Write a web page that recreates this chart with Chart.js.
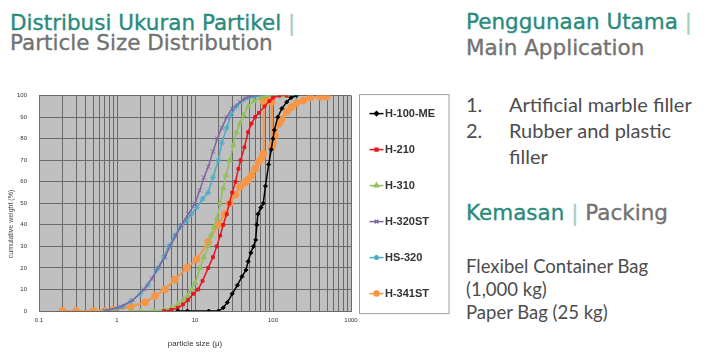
<!DOCTYPE html>
<html><head><meta charset="utf-8">
<script src="https://cdn.jsdelivr.net/npm/chart.js@4/dist/chart.umd.min.js"></script>
<style>
html,body{margin:0;padding:0;background:#fff;width:720px;height:358px;overflow:hidden;}
body{position:relative;font-family:"DejaVu Sans",sans-serif;}
.h{position:absolute;white-space:nowrap;font-size:21.5px;line-height:21px;-webkit-text-stroke:0.35px currentColor;}
.teal{color:#2a8a7c}
.gray{color:#727272}
.bar{color:#a6cfc8}
.body{position:absolute;font-family:Lato,sans-serif;color:#4d4d4d;font-size:20px;white-space:nowrap;}
#wrap{position:absolute;left:0;top:80px;width:455px;height:278px;}
</style></head>
<body>
<div class="h teal" style="left:10px;top:12px">Distribusi Ukuran Partikel <span class="bar">|</span></div>
<div class="h gray" style="left:10px;top:32px">Particle Size Distribution</div>

<div class="h teal" style="left:466px;top:11px">Penggunaan Utama <span class="bar">|</span></div>
<div class="h gray" style="left:466px;top:37px">Main Application</div>

<div class="body" style="left:466px;top:91px;line-height:26px">1.<br>2.</div>
<div class="body" style="left:509px;top:91px;line-height:26px">Artificial marble filler<br>Rubber and plastic<br>filler</div>

<div class="h teal" style="left:466px;top:202px">Kemasan <span class="bar">|</span> <span class="gray">Packing</span></div>

<div class="body" style="left:466px;top:255px;line-height:23px;font-size:18.5px">Flexibel Container Bag<br>(1,000 kg)<br>Paper Bag (25 kg)</div>

<div id="wrap"><canvas id="c" width="455" height="278"></canvas></div>

<script>
// ---- data (particle size in µm, cumulative weight in %) ----
const seriesNames = ['H-100-ME','H-210','H-310','H-320ST','HS-320','H-341ST'];
const xTickLabels = [0.1, 1, 10, 100, 1000];
const yTickLabels = [0,10,20,30,40,50,60,70,80,90,100];
const xAxisTitle = 'particle size (μ)';
const yAxisTitle = 'cumulative weight (%)';

const h100me_size = [6,8,15,20,23,26,30,35,40,45,48,52,56,60,62,64,70,75,80,88,95,100,104,115,130,150,170,200];
const h100me_cum  = [0,0,0,0,1.5,4,8,12,16,19,23,27,30,33,40,45,48,50,58,68,75,80,84,90,94,97,99,100];

const h210_size = [4,5,6,7,8.1,9.5,11,12.5,14.8,17,19,21,23,25.5,27.6,30,33,36,38.5,43,48,53,58.8,66,78,90,100,120,150];
const h210_cum  = [0,0.5,1.5,3,5,8,10,14,20,25,30,35,40,45,50,55,60,66,70,76,83,87,90,92,95,97.5,99,100,100];

const h310_size = [1.5,2,3,4,5,6,7,8,9,10,11.6,13,14.8,16,17.5,19.2,21,23,25,28,31,34,37.8,42,48,57,70,85,120,150];
const h310_cum  = [0,0,0,0.5,1.5,3,5,7,10,13,20,25,30,35,39,43,50,57,63,70,77,83,87,91,95,97.5,99,100,100,100];

const h320st_size = [0.7,1.1,1.6,2.2,2.8,3.4,4.1,4.8,5.7,6.7,8.2,10,11.5,13,14.8,17,19.3,22,25.5,30,37.8,45,55,70];
const h320st_cum  = [0,2,5,10,15,20,25,30,35,40,45,50,56,62,67,74,80,85,90,94,97,99,100,100];

const hs320_size = [0.7,1,1.2,1.5,2,2.5,3.2,4,4.6,5.5,6.5,7.8,9,10.5,12.5,14.7,17,19.9,22,25.5,29,34,42,57,80,120,200];
const hs320_cum  = [0,1,2,4.5,8,12,19,25,30,35,39,42,45,48,52,55,62,70,78,85,91,95,98,99.5,100,100,100];

const h341st_size = [0.2,0.3,0.5,0.7,0.9,1.5,2.3,3.07,4.1,5.5,7.8,10.5,14.8,19.9,24,28,33,37.8,43,48,53,58.8,65,72,75,76,80,90,96,97,100,106,120,129,150,173,200,245,300,400,490];
const h341st_cum  = [0,0,0,0,0.5,2,4,7,10,14.5,20,24,32,40,45,50,54,57.6,59.5,61,63,66,69,71,73,97,98,98,97,76,78,81.5,87,89,92.5,94.6,96.5,97.7,99,99.5,99.5];

const seriesSizes = [h100me_size,h210_size,h310_size,h320st_size,hs320_size,h341st_size];
const seriesCums  = [h100me_cum,h210_cum,h310_cum,h320st_cum,hs320_cum,h341st_cum];

// ---- styles ----
const colors = ['#000000','#e8161e','#93bf5c','#8064a2','#4bacc6','#f79646'];
const pStyles = ['rectRot','rect','triangle','crossRot','star','circle'];
const pRadius = [2,2,3,3,3,3.5];

const datasets = seriesNames.map((n,i)=>({
  label:n,
  data: seriesSizes[i].map((x,j)=>({x:x,y:seriesCums[i][j]})),
  borderColor: colors[i], backgroundColor: colors[i],
  pointStyle: pStyles[i], pointRadius: pRadius[i], pointBorderWidth:1,
  borderWidth: i===5?2:1.5, showLine:true, tension:0, fill:false
}));

// minor grid positions for the log axis
const xGrid = [];
for (let e=-1;e<=2;e++){ for (let m=1;m<=9;m++){ xGrid.push(+(m*Math.pow(10,e)).toPrecision(3)); } }
xGrid.push(1000);

const bgPlugin = {
  id:'plotbg',
  beforeDraw(chart){
    const {ctx,chartArea:a}=chart;
    ctx.save(); ctx.fillStyle='#c0c0c0';
    ctx.fillRect(a.left,a.top,a.right-a.left,a.bottom-a.top);
    ctx.restore();
  }
};

const yTitlePlugin = {
  id:'ytitle',
  afterDraw(chart){
    const ctx=chart.ctx;
    ctx.save();
    ctx.translate(11, 144);
    ctx.rotate(-Math.PI/2);
    ctx.fillStyle='#444'; ctx.font='7px "Liberation Sans", Arial, sans-serif';
    ctx.textAlign='center'; ctx.textBaseline='middle';
    ctx.fillText(yAxisTitle,0,0);
    ctx.restore();
  }
};

const legendPlugin = {
  id:'boxlegend',
  afterDraw(chart){
    const ctx=chart.ctx;
    const a=chart.chartArea;
    const bx=a.right+8.5, by=a.top-1, bw=89.5, bh=219;
    ctx.save();
    ctx.strokeStyle='#a0a0a0'; ctx.lineWidth=1;
    ctx.strokeRect(bx,by,bw,bh);
    chart.data.datasets.forEach((ds,i)=>{
      const y = by+19+i*36;
      const x0=bx+10, x1=bx+24;
      ctx.strokeStyle=ds.borderColor; ctx.lineWidth=1.5;
      ctx.beginPath(); ctx.moveTo(x0,y); ctx.lineTo(x1,y); ctx.stroke();
      ctx.fillStyle=ds.backgroundColor;
      Chart.helpers.drawPoint(ctx,{pointStyle:ds.pointStyle,radius:Math.min(ds.pointRadius,2.5),borderWidth:1},(x0+x1)/2,y);
      ctx.fillStyle='#333'; ctx.font='bold 11px "Liberation Sans", Arial, sans-serif';
      ctx.textBaseline='middle'; ctx.textAlign='left';
      ctx.fillText(ds.label,x1+1.5,y);
    });
    ctx.restore();
  }
};

new Chart(document.getElementById('c'),{
  type:'scatter',
  data:{datasets},
  options:{
    responsive:false, animation:false,
    layout:{padding:{top:15,right:104,left:0,bottom:0}},
    plugins:{legend:{display:false},tooltip:{enabled:false}},
    scales:{
      x:{
        type:'logarithmic', min:0.1, max:1000,
        afterFit(s){ s.height=47; },
        afterBuildTicks(s){ s.ticks = xGrid.map(v=>({value:v})); },
        grid:{color:'#6a6a6a',lineWidth:1,drawTicks:false},
        border:{color:'#6a6a6a'},
        ticks:{autoSkip:false,maxRotation:0,padding:6,color:'#333',font:{size:6,family:'"Liberation Sans", Arial'},
          callback:(v)=> xTickLabels.includes(v) ? String(v) : ''},
        title:{display:true,text:xAxisTitle,color:'#333',font:{size:8,family:'"Liberation Sans", Arial'},padding:{top:2,bottom:9}}
      },
      y:{
        min:0,max:100,
        afterFit(s){ s.width=39; },
        afterBuildTicks(s){ s.ticks = yTickLabels.map(v=>({value:v})); },
        grid:{color:'#6a6a6a',lineWidth:1,drawTicks:false},
        border:{color:'#6a6a6a'},
        ticks:{padding:12,color:'#333',font:{size:6,family:'"Liberation Sans", Arial'}},
        title:{display:false}
      }
    }
  },
  plugins:[bgPlugin,yTitlePlugin,legendPlugin]
});
</script>
</body></html>
